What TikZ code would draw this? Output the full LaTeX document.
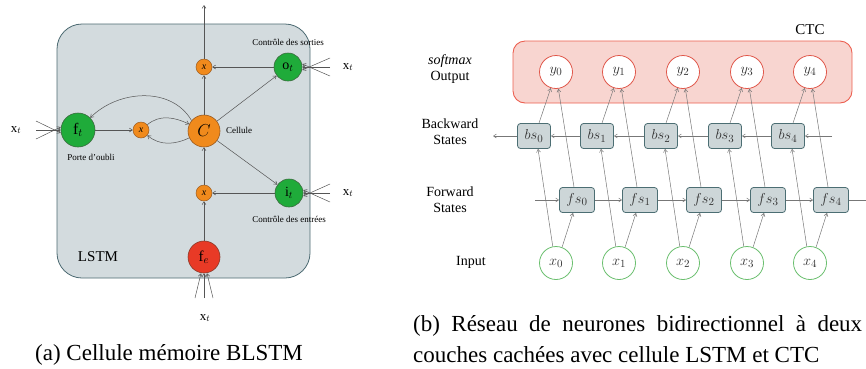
\documentclass[tikz,border=0pt]{standalone}
\usepackage{fontspec}
\setmainfont{Liberation Serif}
\usetikzlibrary{arrows.meta}
\definecolor{gfill}{HTML}{1FAB3A}
\definecolor{gdraw}{HTML}{3A6A3E}
\definecolor{ofill}{HTML}{F08A1C}
\definecolor{odraw}{HTML}{9A5A1F}
\definecolor{rfill}{HTML}{E83A26}
\definecolor{rdraw}{HTML}{8A3A2A}
\definecolor{boxfill}{HTML}{D3DBDE}
\definecolor{boxdraw}{HTML}{4C6A72}
\definecolor{stfill}{HTML}{CDD6D8}
\definecolor{stdraw}{HTML}{4C6E73}
\definecolor{pfill}{HTML}{F8D5D0}
\definecolor{pdraw}{HTML}{EC5F50}
\definecolor{ydraw}{HTML}{E0574A}
\definecolor{xdraw}{HTML}{6ABF6E}
\definecolor{lgray}{HTML}{555555}
\definecolor{rgray}{HTML}{777777}
\begin{document}
\begin{tikzpicture}[x=1pt,y=-1pt,
  arr/.style={-{Straight Barb[length=3pt,width=4pt]},line width=0.5pt},
  larr/.style={arr,draw=lgray},
  rarr/.style={arr,draw=rgray},
  gate/.style={circle,fill=gfill,draw=gdraw,line width=0.6pt,minimum size=28pt,inner sep=0pt,font=\fontsize{14}{14}\selectfont},
  mult/.style={circle,fill=ofill,draw=odraw,line width=0.5pt,minimum size=16pt,inner sep=0pt,font=\fontsize{10}{10}\selectfont},
  cell/.style={circle,fill=ofill,draw=odraw,line width=0.6pt,minimum size=32pt,inner sep=0pt,font=\fontsize{17}{17}\selectfont},
  small/.style={font=\fontsize{9}{10}\selectfont},
  xlab/.style={font=\fontsize{13}{13}\selectfont},
  rlab/.style={font=\fontsize{14}{16}\selectfont,align=center},
  ynode/.style={circle,fill=white,draw=ydraw,line width=0.8pt,minimum size=33pt,inner sep=0pt,font=\fontsize{15}{15}\selectfont,text=black!80},
  xnode/.style={circle,fill=white,draw=xdraw,line width=0.8pt,minimum size=33pt,inner sep=0pt,font=\fontsize{15}{15}\selectfont,text=black!80},
  stnode/.style={rectangle,rounded corners=3pt,fill=stfill,draw=stdraw,line width=0.8pt,minimum height=25pt,inner sep=0pt,font=\fontsize{15}{15}\selectfont,text=black!80},
  captxt/.style={font=\fontsize{23}{26}\selectfont}
]
\useasboundingbox (0,0) rectangle (866,368);
% ---------- left panel ----------
\draw[fill=boxfill,draw=boxdraw,line width=0.8pt,rounded corners=25pt] (57,24) rectangle (310,278);
\node[gate,minimum size=34pt,font=\fontsize{16}{16}\selectfont] (ft) at (78,130) {f$_t$};
\node[mult] (xm) at (141,130) {\textit{x}};
\node[cell] (C) at (204,131) {$C$};
\node[mult] (xt) at (204,67) {\textit{x}};
\node[gate] (ot) at (288,67) {o$_t$};
\node[gate] (it) at (289,193) {i$_t$};
\node[mult] (xl) at (204,193) {\textit{x}};
\node[circle,fill=rfill,draw=rdraw,line width=0.6pt,minimum size=32pt,inner sep=0pt,font=\fontsize{15}{15}\selectfont] (fe) at (204,257) {f$_e$};
\node[font=\fontsize{15}{15}\selectfont] (lstm) at (98,257) {LSTM};
\node[small] (ls) at (288,42) {Contrôle des sorties};
\node[small] (le) at (289,219) {Contrôle des entrées};
\node[small] (lc) at (239,130) {Cellule};
\node[small] (lp) at (91,157) {Porte d’oubli};
\node[xlab] (xtl) at (16,130) {x$_t$};
\node[xlab] (xto) at (348,67) {x$_t$};
\node[xlab] (xti) at (348,193) {x$_t$};
\node[xlab] (xtb) at (205,318) {x$_t$};
\coordinate (top) at (204,5);
% inputs fans
\foreach \d in {-9,0,9}{
  \draw[larr] (36,130+\d) -- ([yshift=\d/3*1pt]ft.west);
  \draw[larr] (330,67+\d) -- ([yshift=\d/3*1pt]ot.east);
  \draw[larr] (330,193+\d) -- ([yshift=\d/3*1pt]it.east);
  \draw[larr] (204+\d,298) -- ([xshift=\d/3*1pt]fe.south);
}
\draw[larr] (ft) -- (xm);
\draw[larr] (xm.40) to[out=40,in=155] (C.155);
\draw[larr] (C.205) to[out=205,in=-40] (xm.-40);
\draw[larr] (C.140) to[out=120,in=45] (ft.45);
\draw[larr] (C) -- (xt);
\draw[larr] (xt) -- (top);
\draw[larr] (ot) -- (xt);
\draw[larr] (C) -- (ot);
\draw[larr] (C) -- (it);
\draw[larr] (it) -- (xl);
\draw[larr] (xl) -- (C);
\draw[larr] (fe) -- (xl);
% ---------- right panel ----------
\draw[fill=pfill,draw=pdraw,line width=0.9pt,rounded corners=12pt] (513,41) rectangle (852,103);
\node[rlab,font=\fontsize{15}{16}\selectfont] (ctc) at (810,30) {CTC};
\node[rlab] (lo) at (450,69) {\textit{softmax}\\Output};
\node[rlab] (lb) at (450,132) {Backward\\States};
\node[rlab] (lf) at (450,200) {Forward\\States};
\node[rlab] (li) at (471,262) {Input};
\foreach \i/\x in {0/556,1/619,2/683,3/747,4/810}{
  \node[ynode] (y\i) at (\x,72) {$y_{\i}$};
  \node[xnode] (x\i) at (\x,263) {$x_{\i}$};
  \node[stnode,minimum width=33pt] (bs\i) at (\x-22,136) {$bs_{\i}$};
  \node[stnode,minimum width=35pt] (fs\i) at (\x+21,200) {$fs_{\i}$};
}
\coordinate (bin) at (832,136);
\coordinate (bout) at (493,136);
\coordinate (fin) at (535,200);
\coordinate (fout) at (866,200);
\draw[rarr] (bin) -- (bs4);
\draw[rarr] (bs4) -- (bs3);
\draw[rarr] (bs3) -- (bs2);
\draw[rarr] (bs2) -- (bs1);
\draw[rarr] (bs1) -- (bs0);
\draw[rarr] (bs0) -- (bout);
\draw[rarr] (fin) -- (fs0);
\draw[rarr] (fs0) -- (fs1);
\draw[rarr] (fs1) -- (fs2);
\draw[rarr] (fs2) -- (fs3);
\draw[rarr] (fs3) -- (fs4);
\draw[rgray,line width=0.5pt] (fs4) -- (fout);
\foreach \i in {0,...,4}{
  \draw[rarr] (x\i.101) -- ([xshift=4pt]bs\i.south);
  \draw[rarr] (x\i.69) -- ([xshift=-4pt]fs\i.south);
  \draw[rarr] ([xshift=5pt]bs\i.north) -- (y\i.252);
  \draw[rarr] ([xshift=-3pt]fs\i.north) -- (y\i.278);
}
% ---------- captions ----------
\node[captxt] (ca) at (169,355) {(a) Cellule mémoire BLSTM};
\node[captxt,anchor=west,inner sep=0pt] (cb1) at (413,326) {\makebox[449pt][s]{(b) Réseau de neurones bidirectionnel à deux}};
\node[captxt,anchor=west,inner sep=0pt] (cb2) at (413,355) {couches cachées avec cellule LSTM et CTC};
\end{tikzpicture}
\end{document}
